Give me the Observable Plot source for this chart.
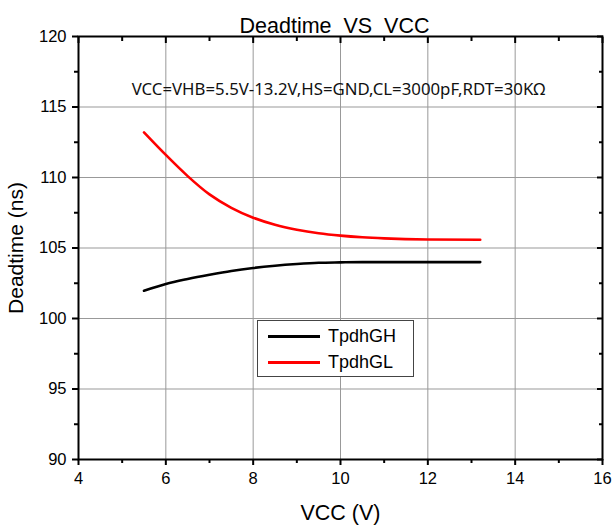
<!DOCTYPE html>
<html>
<head>
<meta charset="utf-8">
<script src="https://cdn.jsdelivr.net/npm/d3@7"></script>
<script src="https://cdn.jsdelivr.net/npm/@observablehq/plot@0.6"></script>
<style>
  html, body { margin: 0; padding: 0; background: #fff; }
  #wrap { position: relative; width: 613px; height: 528px; font-family: "Liberation Sans", Arial, sans-serif; }
  #legend { position: absolute; left: 257px; top: 320px; width: 157px; height: 57px; border: 1.5px solid #444; background: #fff; box-sizing: border-box; }
  .li { position: absolute; left: 10px; height: 26px; display: flex; align-items: center; font-size: 18px; color: #000; }
  .li span.sw { display: inline-block; width: 52px; height: 3px; margin-right: 8px; }
</style>
</head>
<body>
<div id="wrap"></div>
<script>
const vcc = [5.5, 6, 6.5, 7, 7.5, 8, 8.5, 9, 9.5, 10, 10.5, 11, 12, 13.2];
const tpdhGH = [101.97, 102.45, 102.8, 103.1, 103.37, 103.58, 103.74, 103.86, 103.95, 103.98, 104.0, 104.0, 104.0, 104.0];
const tpdhGL = [113.2, 111.6, 110.1, 108.8, 107.85, 107.15, 106.65, 106.3, 106.05, 105.88, 105.76, 105.68, 105.6, 105.58];
const seriesNames = ["TpdhGH", "TpdhGL"];
const seriesColors = ["#000000", "#ff0000"];
const xTicks = [4, 6, 8, 10, 12, 14, 16];
const xMinor = [5, 7, 9, 11, 13, 15];
const yTicks = [90, 95, 100, 105, 110, 115, 120];
const yMinor = [92.5, 97.5, 102.5, 107.5, 112.5, 117.5];
const title = "Deadtime  VS  VCC";
const note = "VCC=VHB=5.5V-13.2V,HS=GND,CL=3000pF,RDT=30KΩ";

const rows = [];
[tpdhGH, tpdhGL].forEach((arr, k) => arr.forEach((v, i) => rows.push({x: vcc[i], y: v, s: seriesNames[k]})));

const font = "Liberation Sans, Arial, sans-serif";
const chart = Plot.plot({
  width: 613, height: 528,
  marginLeft: 78, marginRight: 11, marginTop: 36, marginBottom: 69,
  style: { fontFamily: font, fontSize: "16px", color: "#000", background: "#fff" },
  x: { domain: [4, 16] },
  y: { domain: [90, 120] },
  color: { domain: seriesNames, range: seriesColors },
  marks: [
    Plot.gridX(xTicks, { stroke: "#999", strokeOpacity: 1, strokeWidth: 1 }),
    Plot.gridY(yTicks, { stroke: "#999", strokeOpacity: 1, strokeWidth: 1 }),
    Plot.line(rows, { x: "x", y: "y", z: "s", stroke: "s", strokeWidth: 2.6, curve: "monotone-x" }),
    Plot.axisX(xTicks, { anchor: "bottom", tickSize: 6, tickPadding: 7, strokeWidth: 2, fontSize: 16.5, label: "VCC (V)", labelAnchor: "center", labelArrow: "none", labelOffset: 60, fontFamily: font }),
    Plot.axisX(xMinor, { anchor: "bottom", tickSize: 4, strokeWidth: 2, text: null, label: null }),
    Plot.axisX(xTicks, { anchor: "top", tickSize: -6, strokeWidth: 2, text: null, label: null }),
    Plot.axisX(xMinor, { anchor: "top", tickSize: -4, strokeWidth: 2, text: null, label: null }),
    Plot.axisY(yTicks, { anchor: "left", tickSize: 6, tickPadding: 6, strokeWidth: 2, fontSize: 16.5, label: "Deadtime (ns)", labelAnchor: "center", labelArrow: "none", labelOffset: 70, fontFamily: font }),
    Plot.axisY(yMinor, { anchor: "left", tickSize: 4, strokeWidth: 2, text: null, label: null }),
    Plot.axisY(yTicks, { anchor: "right", tickSize: -6, strokeWidth: 2, text: null, label: null }),
    Plot.axisY(yMinor, { anchor: "right", tickSize: -4, strokeWidth: 2, text: null, label: null }),
    Plot.frame({ stroke: "#000", strokeWidth: 2 }),
    Plot.text([title], { frameAnchor: "top", dx: -6, dy: -19, fontSize: 21.5, fontFamily: font, fill: "#000" }),
    Plot.text([note], { frameAnchor: "top", dx: -2, dy: 47, fontSize: 16.8, fontFamily: "Noto Sans, sans-serif", fill: "#111" })
  ]
});
chart.querySelectorAll("g[aria-label='y-axis label'] text").forEach(t => t.style.fontSize = "21px");
chart.querySelectorAll("g[aria-label='x-axis label'] text").forEach(t => t.style.fontSize = "21.5px");
const wrap = document.getElementById("wrap");
wrap.appendChild(chart);

const lg = document.createElement("div");
lg.id = "legend";
seriesNames.forEach((n, i) => {
  const d = document.createElement("div");
  d.className = "li";
  d.style.top = (i * 26 + 2) + "px";
  d.innerHTML = `<span class="sw" style="background:${seriesColors[i]}"></span>${n}`;
  lg.appendChild(d);
});
wrap.appendChild(lg);
</script>
</body>
</html>
